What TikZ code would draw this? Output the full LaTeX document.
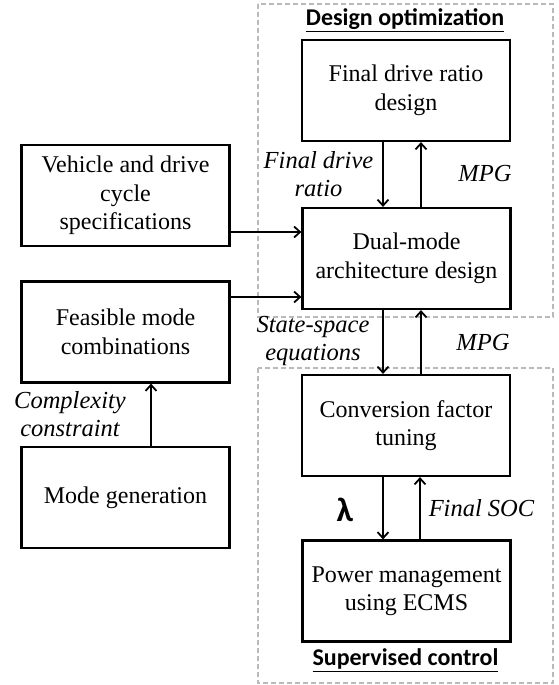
\documentclass[tikz,border=0pt]{standalone}
\usepackage{fontspec}
\setmainfont{Liberation Serif}
\newfontfamily\headfont{Carlito}
\usetikzlibrary{arrows.meta}
\tikzset{
  block/.style={draw, line width=2.2pt, minimum width=208pt, minimum height=101pt,
    align=center, inner sep=0pt, font=\fontsize{24}{28.5}\selectfont},
  group/.style={draw=black!27, line width=1.5pt, dash pattern=on 5pt off 3pt},
  arr/.style={line width=2pt, -{Straight Barb[length=6pt,width=11pt,line width=1.8pt]}},
  lbl/.style={align=center, inner sep=0pt, font=\fontsize{24.5}{28}\selectfont\itshape},
  head/.style={inner sep=0pt, font=\fontsize{24}{28}\selectfont\headfont\bfseries}
}
\begin{document}
\begin{tikzpicture}[x=1pt, y=-1pt]
\useasboundingbox (0,0) rectangle (558,685);

% dashed groups
\draw[group] (258,4) rectangle (553,317);
\draw[group] (258,368) rectangle (553,683);
\node[head] (hdo) at (405,20) {\underline{Design optimization}};
\node[head] (hsc) at (405.5,660) {\underline{Supervised control}};

% blocks
\node[block] (fdr) at (406,90.5) {Final drive ratio\\design};
\node[block] (dual) at (406.5,258.5) {Dual-mode\\architecture design};
\node[block] (veh) at (125.5,195.5) {Vehicle and drive\\cycle\\specifications};
\node[block] (feas) at (125.5,332) {Feasible mode\\combinations};
\node[block] (mode) at (125.5,497.5) {Mode generation};
\node[block] (conv) at (406,425.5) {Conversion factor\\tuning};
\node[block] (pm) at (406.5,591) {Power management\\using ECMS};

% connectors
\draw[arr] ([xshift=-23pt]fdr.south) -- ([xshift=-23.5pt]dual.north);
\draw[arr] ([xshift=14.5pt]dual.north) -- ([xshift=15pt]fdr.south);
\draw[arr] ([yshift=-36.5pt]veh.east) -- ([yshift=-36.5pt]veh.east -| dual.west);
\draw[arr] ([yshift=35pt]feas.east) -- ([yshift=35pt]feas.east -| dual.west);
\draw[arr] ([xshift=25.5pt]mode.north) -- ([xshift=25.5pt]feas.south);
\draw[arr] ([xshift=-23.5pt]dual.south) -- ([xshift=-23pt]conv.north);
\draw[arr] ([xshift=15pt]conv.north) -- ([xshift=14.5pt]dual.south);
\draw[arr] ([xshift=-23pt]conv.south) -- ([xshift=-23.5pt]pm.north);
\draw[arr] ([xshift=13.5pt]pm.north) -- ([xshift=14pt]conv.south);

% connector labels
\node[lbl] (l1) at (318.5,174) {Final drive\\ratio};
\node[lbl] (l2) at (485,173) {MPG};
\node[lbl] (l3) at (313,341) {State-space\\equations};
\node[lbl] (l4) at (483,342) {MPG};
\node[lbl] (l5) at (70,414) {Complexity\\constraint};
\node[inner sep=0pt, font=\fontsize{34}{34}\selectfont\headfont\bfseries] (l6) at (345,510) {λ};
\node[lbl] (l7) at (481.5,508) {Final SOC};
\end{tikzpicture}
\end{document}
